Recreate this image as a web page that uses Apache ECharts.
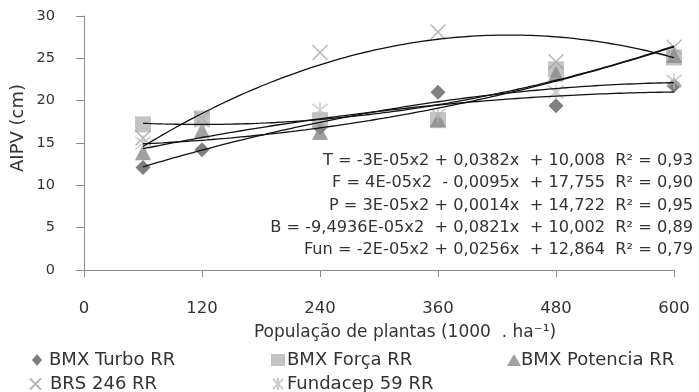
<!DOCTYPE html>
<html>
<head>
<meta charset="utf-8">
<script src="https://cdn.jsdelivr.net/npm/echarts@6/dist/echarts.min.js"></script>
<style>
  html, body { margin: 0; padding: 0; background: #fff; }
  #chart { width: 699px; height: 392px; }
</style>
</head>
<body>
<div id="chart"></div>
<script>
// population (1000 . ha-1)
const populations = [60, 120, 240, 360, 480, 600];
const xTicks = [0, 120, 240, 360, 480, 600];

// AIPV (cm)
const turbo    = [12.1, 14.2, 16.8, 21.0, 19.4, 21.8];
const forca    = [17.2, 17.9, 17.7, 17.7, 23.7, 25.1];
const potencia = [13.9, 16.5, 16.3, 17.8, 23.2, 25.4];
const brs      = [15.6, 17.9, 25.7, 28.1, 24.6, 26.3];
const fundacep = [15.0, 17.6, 18.9, 18.3, 21.0, 22.3];

// trend line coefficients [a, b, c] for a*x^2 + b*x + c, as printed
const coefT   = [-3e-05, 0.0382, 10.008];
const coefF   = [4e-05, -0.0095, 17.755];
const coefP   = [3e-05, 0.0014, 14.722];
const coefB   = [-9.4936e-05, 0.0821, 10.002];
const coefFun = [-2e-05, 0.0256, 12.864];

const equations = [
  "T = -3E-05x2 + 0,0382x  + 10,008  R² = 0,93",
  "F = 4E-05x2  - 0,0095x  + 17,755  R² = 0,90",
  "P = 3E-05x2 + 0,0014x  + 14,722  R² = 0,95",
  "B = -9,4936E-05x2  + 0,0821x  + 10,002  R² = 0,89",
  "Fun = -2E-05x2 + 0,0256x  + 12,864  R² = 0,79"
];

const font = "DejaVu Sans";
const txt = "#333";
const axisGray = "#8c8c8c";

const chart = echarts.init(document.getElementById("chart"));

const pts = (ys) => populations.map((x, i) => [x, ys[i]]);
const curve = (c) => {
  const out = [];
  for (let x = populations[0]; x <= populations[populations.length - 1]; x += 5) {
    out.push([x, c[0] * x * x + c[1] * x + c[2]]);
  }
  return out;
};

const xPath = "path://M0,0L10,10M10,0L0,10";
const starPath = "path://M0,0L10,10M10,0L0,10M5,-1L5,11";

const scatter = (name, ys, symbol, size, style) => ({
  name, type: "scatter", data: pts(ys), symbol, symbolSize: size,
  itemStyle: style, z: 2
});

const trend = (c) => ({
  type: "line", data: curve(c), showSymbol: false, symbol: "none",
  lineStyle: { color: "#111", width: 1.3 }, z: 5, silent: true
});

// one legend per entry so the 3+2 grid lines up like the original
const legendAt = (name, left, top, w, h, padLeft) => ({
  data: [name], left, top, orient: "horizontal",
  itemWidth: w, itemHeight: h, selectedMode: false,
  textStyle: { fontFamily: font, fontSize: 18, color: txt, padding: [0, 0, 0, padLeft] }
});

chart.setOption({
  animation: false,
  grid: { left: 84, right: 25, top: 16, bottom: 122 },
  xAxis: {
    type: "value", min: 0, max: 600, interval: 120,
    axisLine: { show: true, lineStyle: { color: axisGray } },
    axisTick: { show: true, length: 7, lineStyle: { color: axisGray } },
    splitLine: { show: false },
    axisLabel: {
      margin: 30, fontFamily: font, fontSize: 16.5, color: txt,
      customValues: xTicks
    }
  },
  yAxis: {
    type: "value", min: 0, max: 30, interval: 5,
    axisLine: { show: true, lineStyle: { color: axisGray } },
    axisTick: { show: true, length: 8, lineStyle: { color: axisGray } },
    splitLine: { show: false },
    axisLabel: { margin: 29, fontFamily: font, fontSize: 14.5, color: txt }
  },
  legend: [
    legendAt("BMX Turbo RR", 27, 346, 10, 12, 2),
    legendAt("BMX Força RR", 266, 346, 14, 12, -3),
    legendAt("BMX Potencia RR", 502, 346, 14, 12, -5),
    legendAt("BRS 246 RR", 24, 370, 11, 11, 4),
    legendAt("Fundacep 59 RR", 267, 370, 12, 12, -2)
  ],
  graphic: [
    {
      type: "text", x: 18, y: 128, rotation: Math.PI / 2,
      style: { text: "AIPV (cm)", fontFamily: font, fontSize: 18, fill: txt,
               align: "center", verticalAlign: "middle" }
    },
    {
      type: "text", x: 405, y: 333,
      style: { text: "População de plantas (1000  . ha⁻¹)", fontFamily: font, fontSize: 17,
               fill: txt, align: "center", verticalAlign: "middle" }
    }
  ].concat(equations.map((e, i) => ({
    type: "text", x: 693, y: 161 + i * 22.2,
    style: { text: e, fontFamily: font, fontSize: 16.2, fill: txt,
             align: "right", verticalAlign: "middle" }
  }))),
  series: [
    scatter("BMX Turbo RR", turbo, "diamond", 15, { color: "#5f5f5f" }),
    scatter("BMX Força RR", forca, "rect", 16, { color: "#b4b4b4" }),
    scatter("BMX Potencia RR", potencia, "triangle", 16, { color: "#8a8a8a" }),
    scatter("BRS 246 RR", brs, xPath, 15,
            { color: "rgba(0,0,0,0)", borderColor: "#a3a3a3", borderWidth: 1.5 }),
    scatter("Fundacep 59 RR", fundacep, starPath, 15,
            { color: "rgba(0,0,0,0)", borderColor: "#bdbdbd", borderWidth: 1.5 }),
    trend(coefT), trend(coefF), trend(coefP), trend(coefB), trend(coefFun)
  ]
});
</script>
</body>
</html>
